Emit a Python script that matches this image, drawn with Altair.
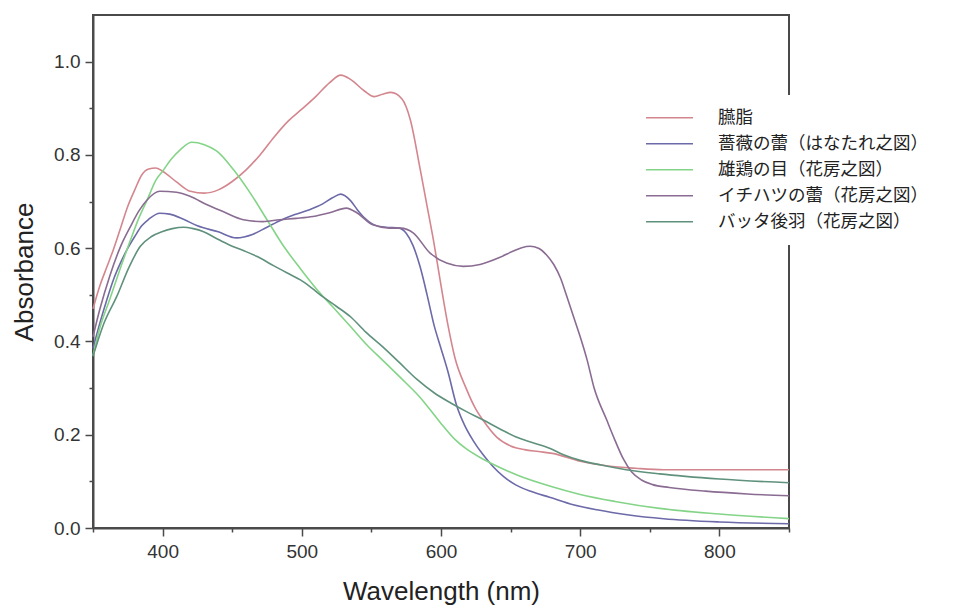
import altair as alt
import pandas as pd

series_names = [
    "臙脂",
    "薔薇の蕾（はなたれ之図）",
    "雄鶏の目（花房之図）",
    "イチハツの蕾（花房之図）",
    "バッタ後羽（花房之図）",
]
series_colors = ["#d4868e", "#6c6aa8", "#84d488", "#8a6c92", "#5f917c"]

# 臙脂
wl_enji = [350, 355, 360, 365, 370, 375, 380, 385, 390, 395, 400, 410, 420, 430, 440,
           450, 460, 470, 480, 490, 500, 510, 520, 528, 535, 545, 552, 558, 564, 572,
           578, 585, 590, 595, 600, 605, 610, 618, 625, 630, 640, 650, 660, 670, 680,
           700, 720, 740, 760, 800, 850]
abs_enji = [0.47, 0.52, 0.56, 0.60, 0.645, 0.69, 0.725, 0.757, 0.77, 0.772, 0.765, 0.742,
            0.722, 0.718, 0.725, 0.743, 0.768, 0.80, 0.838, 0.872, 0.898, 0.925, 0.955,
            0.971, 0.962, 0.937, 0.925, 0.93, 0.934, 0.92, 0.875, 0.77, 0.69, 0.61, 0.52,
            0.435, 0.365, 0.30, 0.255, 0.232, 0.195, 0.176, 0.168, 0.164, 0.16, 0.143,
            0.133, 0.128, 0.125, 0.125, 0.125]

# 薔薇の蕾（はなたれ之図）
wl_bara = [350, 355, 360, 365, 370, 375, 380, 385, 390, 398, 405, 415, 425, 440, 453,
           465, 475, 485, 495, 505, 515, 522, 528, 535, 540, 545, 552, 560, 570, 575,
           580, 585, 590, 595, 600, 605, 611, 617, 623, 630, 637, 645, 654, 665, 678,
           695, 712, 735, 760, 800, 850]
abs_bara = [0.385, 0.44, 0.49, 0.535, 0.57, 0.60, 0.625, 0.648, 0.662, 0.675, 0.673,
            0.662, 0.648, 0.635, 0.622, 0.63, 0.645, 0.66, 0.672, 0.682, 0.695, 0.708,
            0.716, 0.702, 0.682, 0.665, 0.65, 0.645, 0.643, 0.632, 0.605, 0.56, 0.50,
            0.435, 0.385, 0.335, 0.265, 0.22, 0.188, 0.158, 0.133, 0.11, 0.092, 0.078,
            0.066, 0.05, 0.039, 0.028, 0.02, 0.013, 0.009]

# 雄鶏の目（花房之図）
wl_ondori = [350, 355, 362, 370, 377, 383, 389, 395, 400, 406, 413, 421, 430, 439, 451,
             463, 475, 487, 499, 511, 522, 535, 547, 558, 570, 585, 599, 610, 618, 630,
             640, 655, 678, 700, 725, 757, 800, 850]
abs_ondori = [0.37, 0.43, 0.49, 0.56, 0.618, 0.665, 0.704, 0.745, 0.765, 0.79, 0.812,
              0.827, 0.822, 0.808, 0.768, 0.718, 0.661, 0.604, 0.556, 0.511, 0.475, 0.432,
              0.392, 0.36, 0.325, 0.28, 0.228, 0.19, 0.17, 0.148, 0.133, 0.113, 0.09,
              0.072, 0.057, 0.042, 0.03, 0.02]

# イチハツの蕾（花房之図）
wl_ichihatsu = [350, 355, 362, 370, 377, 383, 389, 398, 410, 420, 432, 443, 458, 472,
                484, 496, 508, 520, 532, 540, 551, 563, 571, 580, 592, 604, 616, 628,
                642, 652, 658, 664, 670, 676, 681, 686, 690, 695, 700, 705, 710, 719,
                725, 731, 737, 744, 752, 764, 790, 820, 850]
abs_ichihatsu = [0.41, 0.47, 0.54, 0.605, 0.647, 0.68, 0.704, 0.722, 0.72, 0.711, 0.693,
                 0.679, 0.661, 0.657, 0.661, 0.664, 0.668, 0.676, 0.686, 0.675, 0.65,
                 0.643, 0.643, 0.633, 0.59, 0.568, 0.561, 0.565, 0.58, 0.594, 0.601,
                 0.604, 0.6, 0.585, 0.565, 0.535, 0.50, 0.455, 0.41, 0.36, 0.30, 0.232,
                 0.188, 0.148, 0.12, 0.103, 0.093, 0.087, 0.079, 0.073, 0.069]

# バッタ後羽（花房之図）
wl_batta = [350, 358, 367, 376, 384, 392, 400, 407, 415, 422, 429, 438, 448, 458, 468,
            480, 492, 499, 507, 515, 525, 535, 546, 558, 570, 583, 595, 607, 618, 630,
            642, 654, 666, 678, 688, 700, 715, 733, 757, 800, 850]
abs_batta = [0.368, 0.44, 0.496, 0.56, 0.604, 0.625, 0.636, 0.642, 0.645, 0.642, 0.636,
             0.622, 0.607, 0.595, 0.582, 0.562, 0.543, 0.532, 0.515, 0.496, 0.475, 0.453,
             0.42, 0.389, 0.355, 0.318, 0.29, 0.268, 0.25, 0.232, 0.213, 0.195, 0.183,
             0.171, 0.157, 0.145, 0.135, 0.125, 0.116, 0.105, 0.097]

x_tick_values = [350, 400, 450, 500, 550, 600, 650, 700, 750, 800, 850]
y_tick_values = [0.0, 0.1, 0.2, 0.3, 0.4, 0.5, 0.6, 0.7, 0.8, 0.9, 1.0]

rows = []
for name, wls, vals in zip(
    series_names,
    [wl_enji, wl_bara, wl_ondori, wl_ichihatsu, wl_batta],
    [abs_enji, abs_bara, abs_ondori, abs_ichihatsu, abs_batta],
):
    for w, a in zip(wls, vals):
        rows.append({"series": name, "wavelength": w, "absorbance": a})
df = pd.DataFrame(rows)

axis_color = "#4a4a4a"

chart = (
    alt.Chart(df)
    .mark_line(strokeWidth=1.6, interpolate="monotone")
    .encode(
        x=alt.X(
            "wavelength:Q",
            scale=alt.Scale(domain=[350, 850], nice=False, zero=False),
            axis=alt.Axis(
                values=x_tick_values,
                labelExpr="datum.value % 100 === 0 ? datum.label : ''",
                tickSize={"condition": {"test": "datum.value % 100 === 0", "value": 8}, "value": 4},
                title="Wavelength (nm)",
                labelPadding=6,
                titlePadding=17,
                grid=False,
            ),
        ),
        y=alt.Y(
            "absorbance:Q",
            scale=alt.Scale(domain=[0, 1.1], nice=False, zero=True),
            axis=alt.Axis(
                values=y_tick_values,
                format=".1f",
                labelExpr="round(datum.value * 10) % 2 === 0 ? datum.label : ''",
                tickSize={"condition": {"test": "round(datum.value * 10) % 2 === 0", "value": 8}, "value": 4},
                title="Absorbance",
                labelPadding=5,
                titlePadding=16,
                grid=False,
            ),
        ),
        color=alt.Color(
            "series:N",
            scale=alt.Scale(domain=series_names, range=series_colors),
            sort=series_names,
            legend=alt.Legend(
                title=None,
                orient="none",
                legendX=542,
                legendY=80,
                symbolType="stroke",
                symbolSize=2209,
                symbolStrokeWidth=1.6,
                labelFont="Noto Sans CJK JP",
                labelFontSize=17.5,
                labelColor="#222222",
                labelOffset=24,
                labelLimit=400,
                clipHeight=25.5,
                rowPadding=0,
                fillColor="white",
                padding=10,
            ),
        ),
    )
    .properties(
        width=696,
        height=513,
        autosize=alt.AutoSizeParams(type="none"),
        padding={"left": 93, "top": 15, "right": 165, "bottom": 82},
    )
    .configure_view(stroke=axis_color, strokeWidth=2)
    .configure_axis(
        domainColor=axis_color,
        domainWidth=2,
        tickColor=axis_color,
        tickWidth=1.5,
        labelFont="Liberation Sans",
        labelFontSize=19,
        labelColor="#333333",
        titleFont="Liberation Sans",
        titleFontSize=26,
        titleFontWeight="normal",
        titleColor="#222222",
    )
)

chart.save("out.html", embed_options={"renderer": "svg", "actions": False})
